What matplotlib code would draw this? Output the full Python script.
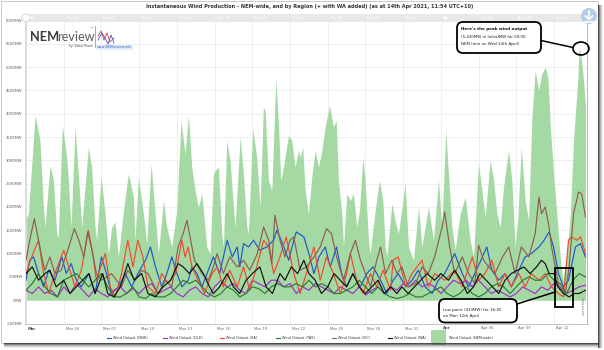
import numpy as np
import matplotlib
matplotlib.use("Agg")
import matplotlib.pyplot as plt
from matplotlib.patches import FancyBboxPatch, Ellipse, Rectangle, Circle
from matplotlib.lines import Line2D
from matplotlib.transforms import IdentityTransform

plt.rcParams['font.family'] = ['DejaVu Sans']

# ---------------- data (day offsets from 1 Mar 2021 00:00, MW) ----------------
nem_day = [0, 0.19, 0.72, 1.11, 1.38, 1.51, 1.91, 2.18, 2.44, 2.57,
           2.89, 3.24, 3.37, 3.58, 3.90, 4.16, 4.43, 4.96, 5.22, 5.49,
           5.62, 5.97, 6.29, 6.55, 6.82, 7.08, 7.35, 7.75, 8.14, 8.54,
           8.67, 8.94, 9.34, 9.60, 9.95, 10.27, 10.53, 10.93, 11.19, 11.59,
           11.99, 12.33, 12.65, 12.92, 13.18, 13.45, 13.71, 13.98, 14.38, 14.64,
           14.91, 15.04, 15.30, 15.57, 15.70, 15.97, 16.23, 16.50, 16.63, 17.03,
           17.29, 17.56, 17.69, 18.03, 18.35, 18.62, 18.88, 19.02, 19.28, 19.55,
           19.87, 20.08, 20.26, 20.48, 20.87, 21.14, 21.40, 21.67, 21.80, 22.01,
           22.20, 22.46, 22.73, 22.99, 23.26, 23.53, 23.79, 24.14, 24.45, 24.67,
           24.85, 25.12, 25.25, 25.52, 25.78, 26.05, 26.31, 26.52, 26.79, 26.97,
           27.24, 27.37, 27.77, 28.11, 28.38, 28.57, 28.70, 29.10, 29.36, 29.62,
           30.16, 30.42, 30.82, 31.22, 31.48, 32.01, 32.41, 32.81, 33.07, 33.39,
           33.60, 33.87, 34.13, 34.53, 34.93, 35.33, 35.59, 35.99, 36.26, 36.52,
           36.92, 37.19, 37.45, 37.72, 37.98, 38.38, 38.64, 38.91, 39.12, 39.39,
           39.70, 39.97, 40.24, 40.50, 40.77, 41.03, 41.30, 41.51, 41.69, 41.96,
           42.22, 42.49, 42.70, 43.02, 43.29, 43.55, 43.90, 44.00, 44.16, 44.35,
           44.50]
nem_mw = [1750, 1857, 3963, 3428, 2000, 1571, 2892, 2571, 1428, 1357,
          3750, 3070, 2571, 1571, 3713, 2713, 1571, 3285, 2856, 1571,
          1285, 2642, 1857, 1000, 1571, 1678, 928, 1928, 2713, 2213,
          1285, 2642, 1857, 1214, 2928, 1857, 1000, 2142, 1571, 1143,
          1928, 3856, 3142, 3963, 2856, 2356, 2000, 2285, 1143, 1000,
          2713, 2785, 2856, 1428, 1143, 3428, 3000, 2000, 1571, 3500,
          2713, 1571, 1428, 3677, 3070, 2000, 4141, 4070, 2571, 2356,
          4748, 3785, 2571, 2856, 3534, 3428, 2856, 3213, 3070, 3285,
          2356, 1857, 2642, 3213, 2856, 3213, 3713, 4177, 3713, 3856,
          2571, 1857, 1143, 2285, 2142, 2285, 1571, 1928, 3070, 2571,
          1285, 1000, 1928, 2571, 2142, 1143, 928, 2070, 1700, 1428,
          2500, 1143, 857, 2000, 1143, 2000, 1285, 2571, 1571, 3641,
          2713, 1571, 1071, 1857, 2213, 1285, 928, 2928, 2356, 1785,
          3000, 2571, 1857, 1571, 2428, 3213, 2571, 1143, 1785, 3285,
          2142, 1714, 3928, 4928, 4500, 4856, 5000, 4785, 3785, 2713,
          1857, 928, 433, 1000, 1857, 3428, 4785, 5430, 5200, 4713,
          4141]

nsw_day = [0, 0.3, 0.6, 1.0, 1.4, 1.8, 2.3, 2.85, 3.2, 3.6,
           4.0, 4.4, 5.0, 5.5, 6.0, 6.4, 6.8, 7.35, 7.9, 8.4,
           8.9, 9.5, 9.9, 10.3, 10.8, 11.2, 11.6, 12.0, 12.4, 12.9,
           13.2, 13.6, 14.0, 14.4, 14.9, 15.4, 16.0, 16.4, 16.8, 17.0,
           17.3, 17.7, 18.1, 18.6, 19.15, 19.7, 19.95, 20.3, 20.9, 21.3,
           21.5, 22.1, 22.5, 22.9, 23.3, 23.8, 24.2, 24.7, 25.1, 25.5,
           26.0, 26.6, 27.1, 27.6, 28.2, 28.7, 29.2, 29.6, 30.2, 30.7,
           31.2, 31.75, 32.3, 32.8, 33.3, 34.1, 34.7, 35.2, 35.7, 36.3,
           36.65, 37.05, 37.6, 38.1, 38.6, 39.2, 39.7, 40.2, 40.8, 41.2,
           41.6, 41.96, 42.35, 42.75, 43.15, 43.7, 44.1, 44.5]
nsw_mw = [428, 857, 928, 571, 286, 643, 428, 928, 571, 785,
          428, 286, 571, 143, 928, 571, 143, 286, 571, 286,
          571, 857, 1142, 714, 286, 571, 928, 571, 286, 428,
          714, 571, 286, 571, 928, 571, 1285, 928, 1142, 714,
          1214, 1142, 1285, 1071, 1142, 1285, 1500, 1285, 857, 1285,
          1464, 1357, 1000, 571, 928, 1142, 714, 1142, 571, 286,
          571, 286, 571, 714, 428, 143, 428, 571, 286, 428,
          643, 286, 143, 428, 571, 1000, 571, 286, 571, 928,
          1142, 643, 428, 571, 286, 643, 928, 1000, 1142, 1285,
          1464, 1142, 571, 286, 428, 1142, 1214, 928]

sa_day = [0, 0.45, 1.0, 1.4, 1.8, 2.3, 3.0, 3.4, 3.9, 4.4,
          4.96, 5.35, 5.6, 6.3, 6.7, 7.1, 7.6, 8.1, 8.5, 8.9,
          9.3, 9.7, 10.3, 10.8, 11.3, 11.9, 12.4, 12.65, 12.9, 13.2,
          13.7, 14.2, 14.8, 15.2, 15.7, 16.2, 16.8, 17.3, 17.8, 18.35,
          18.9, 19.3, 19.7, 20.2, 20.7, 21.3, 21.8, 22.3, 22.9, 23.4,
          23.9, 24.45, 25.0, 25.5, 25.8, 26.3, 26.8, 27.4, 27.9, 28.4,
          29.0, 29.2, 29.6, 30.2, 30.7, 31.5, 32.0, 32.5, 33.3, 34.1,
          34.7, 35.5, 36.0, 36.5, 37.05, 37.6, 38.1, 38.6, 39.2, 39.7,
          40.2, 40.8, 41.3, 41.8, 42.35, 42.75, 43.15, 43.4, 43.8, 44.1,
          44.35, 44.5]
sa_mw = [571, 928, 1285, 571, 143, 571, 1071, 714, 286, 643,
         1500, 928, 428, 1000, 286, 71, 571, 1285, 714, 1285,
         928, 286, 143, 571, 357, 571, 1285, 928, 1142, 714,
         428, 143, 571, 714, 286, 643, 286, 714, 214, 714,
         1285, 1142, 571, 928, 1357, 571, 143, 571, 1142, 428,
         928, 571, 143, 571, 1000, 428, 143, 571, 286, 643,
         214, 857, 928, 286, 571, 857, 286, 571, 428, 643,
         286, 928, 428, 571, 857, 286, 571, 286, 571, 286,
         571, 428, 571, 286, 143, 71, 1285, 1357, 1285, 1357,
         1142, 1000]

vic_day = [0, 0.3, 0.66, 1.0, 1.25, 1.5, 1.9, 2.3, 2.8, 3.4,
           3.85, 4.2, 4.6, 4.9, 5.2, 5.6, 6.0, 6.8, 7.6, 8.1,
           8.7, 9.2, 9.7, 10.5, 11.1, 11.6, 12.1, 12.5, 12.8, 13.1,
           13.4, 14.0, 14.5, 14.9, 15.2, 15.7, 16.2, 16.8, 17.3, 17.8,
           18.4, 18.9, 19.3, 19.55, 19.8, 20.2, 20.6, 21.0, 21.3, 21.8,
           22.3, 22.9, 23.4, 23.9, 24.3, 24.7, 25.25, 25.8, 26.2, 26.6,
           27.0, 27.4, 27.9, 28.2, 28.6, 29.1, 29.5, 29.9, 30.4, 31.0,
           31.5, 32.0, 32.5, 33.1, 33.3, 33.7, 34.1, 34.7, 35.2, 35.7,
           36.0, 36.4, 36.8, 37.3, 37.9, 38.4, 38.9, 39.4, 40.0, 40.5,
           40.8, 41.0, 41.3, 41.6, 41.8, 42.1, 42.4, 42.9, 43.2, 43.55,
           43.95, 44.2, 44.5]
vic_mw = [857, 1285, 1750, 1285, 928, 643, 928, 571, 643, 1142,
          1535, 1285, 928, 1464, 1142, 571, 428, 571, 286, 643,
          428, 643, 571, 143, 428, 286, 1142, 1428, 1714, 1285,
          857, 571, 428, 714, 1000, 571, 928, 714, 857, 643,
          1000, 1571, 1285, 785, 1821, 1285, 928, 1285, 1357, 643,
          714, 928, 1142, 1535, 1428, 928, 428, 1000, 1285, 857,
          571, 286, 857, 1142, 571, 857, 571, 714, 286, 357,
          714, 571, 928, 1571, 1892, 1142, 571, 928, 571, 357,
          1178, 857, 714, 571, 928, 1142, 571, 1142, 928, 1428,
          2213, 1856, 2000, 1571, 1142, 714, 286, 143, 714, 1856,
          2320, 2285, 1785]

wa_day = [0, 0.5, 1.0, 1.5, 1.9, 2.4, 3.0, 3.5, 4.0, 4.5,
          5.0, 5.5, 6.1, 6.5, 7.0, 7.5, 8.1, 8.6, 9.2, 9.7,
          10.3, 10.9, 11.5, 12.1, 12.5, 13.0, 13.6, 14.1, 14.6, 14.9,
          15.4, 16.0, 16.5, 17.0, 17.5, 18.0, 18.6, 19.1, 19.6, 20.2,
          20.6, 21.1, 21.6, 22.1, 22.5, 23.0, 23.5, 24.0, 24.5, 25.0,
          25.5, 26.0, 26.5, 27.0, 27.5, 28.0, 28.5, 29.0, 29.5, 29.9,
          30.4, 30.9, 31.4, 31.9, 32.5, 33.0, 33.6, 34.1, 34.6, 35.1,
          35.6, 36.1, 36.6, 37.1, 37.6, 38.1, 38.6, 39.1, 39.6, 40.1,
          40.6, 41.0, 41.3, 41.6, 42.0, 42.3, 42.75, 43.2, 43.6, 44.0,
          44.5]
wa_mw = [571, 714, 428, 571, 643, 286, 428, 143, 286, 428,
         571, 143, 571, 143, 71, 286, 785, 428, 571, 143,
         71, 286, 428, 785, 714, 571, 785, 571, 286, 143,
         286, 571, 286, 143, 428, 571, 714, 286, 143, 571,
         428, 714, 571, 857, 571, 428, 143, 286, 571, 428,
         286, 571, 286, 143, 286, 428, 143, 286, 143, 286,
         143, 286, 428, 571, 428, 571, 428, 643, 428, 143,
         286, 571, 428, 286, 143, 428, 571, 643, 714, 571,
         714, 857, 785, 571, 571, 286, 143, 71, 143, 143,
         214]

half_day = list(np.arange(0, 44.51, 0.5))
tas_mw = [214, 357, 571, 286, 143, 71, 428, 500, 571, 428, 286, 428, 571, 286, 71,
          71, 143, 286, 71, 36, 143, 71, 71, 143, 286, 428, 357, 428, 286, 143,
          71, 143, 286, 214, 71, 143, 286, 250, 143, 286, 357, 286, 286, 357, 286,
          428, 286, 357, 286, 143, 143, 214, 286, 428, 286, 143, 286, 143, 71, 36,
          71, 143, 71, 71, 143, 214, 286, 143, 71, 143, 286, 143, 71, 143, 286,
          357, 286, 143, 286, 428, 500, 428, 428, 571, 428, 357, 143, 428, 571, 500]
qld_mw = [214, 143, 286, 143, 214, 71, 286, 143, 357, 214, 71, 250, 143, 71, 214,
          286, 143, 250, 143, 286, 357, 143, 214, 286, 143, 71, 214, 286, 143, 71,
          286, 428, 286, 357, 214, 143, 428, 357, 286, 428, 428, 286, 357, 143, 286,
          214, 357, 286, 214, 143, 286, 214, 143, 286, 107, 214, 286, 143, 286, 214,
          357, 286, 428, 286, 357, 286, 143, 286, 428, 357, 428, 286, 428, 286, 143,
          214, 143, 71, 143, 286, 214, 143, 286, 214, 357, 286, 143, 214, 286, 321]

series_names = ["Wind Output (NSW)", "Wind Output (QLD)", "Wind Output (SA)",
                "Wind Output (TAS)", "Wind Output (VIC)", "Wind Output (WA)",
                "Wind Output (NEM-wide)"]
series_colors = ["#2255cc", "#a22fc6", "#f2492b", "#2e7d32", "#8c5e4e", "#111111", "#a4d9a4"]

y_ticks = list(range(-500, 6001, 500))
x_tick_days = list(range(0, 43, 3))
x_tick_labels = ["Mar", "Mar 04", "Mar 07", "Mar 10", "Mar 13", "Mar 16", "Mar 19",
                 "Mar 22", "Mar 25", "Mar 28", "Mar 31", "Apr", "Apr 06", "Apr 09", "Apr 12"]

title = ("Instantaneous Wind Production - NEM-wide, and by Region (+ with WA added) "
         "(as at 14th Apr 2021, 11:54 UTC+10)")

# ---------------- figure ----------------
W, H = 604, 350
fig = plt.figure(figsize=(W / 100, H / 100), dpi=100)
fig.patch.set_facecolor("white")
ID = IdentityTransform()


def ftext(x, y, s, **kw):
    return fig.text(x / W, 1 - y / H, s, **kw)


X0, X1, Y0, Y1 = 26, 588, 20.5, 323.5
ax = fig.add_axes([X0 / W, 1 - Y1 / H, (X1 - X0) / W, (Y1 - Y0) / H])
ax.set_xlim(0, 44.7)
ax.set_ylim(-500, 6000)
ax.set_facecolor("white")

ax.fill_between(nem_day, 0, nem_mw, color=series_colors[6], lw=0, zorder=1)
regions = [(nsw_day, nsw_mw), (half_day, qld_mw), (sa_day, sa_mw),
           (half_day, tas_mw), (vic_day, vic_mw), (wa_day, wa_mw)]
for (d, v), c in zip(regions, series_colors[:6]):
    ax.plot(d, v, color=c, lw=0.85, zorder=3, solid_joinstyle="round")

ax.axvline(44.6, color="#ff8c8c", lw=0.6, zorder=4)

ax.set_yticks(y_ticks)
ax.set_yticklabels([f"{v}MW" for v in y_ticks], fontsize=2.7, color="#606060")
ax.set_xticks(x_tick_days)
ax.set_xticklabels([])
ax.tick_params(length=0, pad=2.5)
ax.grid(True, color="#ececec", lw=0.6)
ax.set_axisbelow(True)
for s in ("top", "right"):
    ax.spines[s].set_visible(False)
ax.spines["left"].set_color("#d9d9d9")
ax.spines["left"].set_linewidth(1.3)
ax.spines["bottom"].set_color("#c4c4c4")
ax.spines["bottom"].set_linewidth(0.7)

for d, lbl in zip(x_tick_days, x_tick_labels):
    bold = lbl in ("Mar", "Apr")
    ax.annotate(lbl, xy=(d, 0), xycoords=("data", "axes fraction"), xytext=(2, -5),
                textcoords="offset pixels", ha="left", va="center", fontsize=2.7,
                color="#444444" if bold else "#666666",
                fontweight="bold" if bold else "normal", annotation_clip=False)

# top band (navigator-like)
fig.add_artist(Rectangle((25, H - 21.5), 562, 7.5, transform=ID, fc="#e8e8e8", ec="none"))
pxd = (X1 - X0) / 44.7
for d, lbl in zip(x_tick_days, x_tick_labels):
    ftext(X0 + d * pxd + 2, 17.8, lbl, fontsize=2.6, color="white", va="center",
          fontweight="bold" if lbl in ("Mar", "Apr") else "normal")
fig.add_artist(Circle((26, H - 17.8), 4, transform=ID, fc="white", ec="#c8c8c8", lw=0.5))

# title
ftext(310, 6.5, title, fontsize=3.6, fontweight="bold", color="#333333",
      ha="center", va="center")

# download icon
fig.add_artist(Circle((589, H - 16), 8, transform=ID, fc="#b5cde8", ec="none"))
fig.add_artist(Line2D([589, 589], [H - 11, H - 19], transform=ID, color="white", lw=1.2))
fig.add_artist(Line2D([585.5, 589, 592.5], [H - 16, H - 19.5, H - 16], transform=ID,
                      color="white", lw=1.2))
fig.add_artist(Line2D([584.5, 593.5], [H - 21.5, H - 21.5], transform=ID, color="white", lw=1.2))

# logo
r = fig.canvas.get_renderer()
t1 = ftext(30, 41, "NEM", fontsize=9.2, fontweight="bold", color="#3b3b3b",
           family="Lato", va="baseline")
bb = t1.get_window_extent(r)
fig.text((bb.x1 - 2.5) / W, 1 - 41 / H, "review", fontsize=9.2, color="#5a5a5a",
         family="Lato", va="baseline")
ftext(89, 30, "\u2122", fontsize=3, color="#555555")
ftext(69, 46, "by Global-Roam", fontsize=2.2, color="#555555", va="center")
fig.add_artist(Line2D([95, 95], [H - 26, H - 47], transform=ID, color="#888888", lw=0.5))
fig.add_artist(Line2D([98, 101, 104, 107, 110, 114], [H - 36, H - 31, H - 40, H - 33, H - 42, H - 38],
                      transform=ID, color="#e03a3a", lw=0.6))
fig.add_artist(Line2D([98, 102, 105, 108, 111, 114], [H - 40, H - 33, H - 38, H - 44, H - 35, H - 43],
                      transform=ID, color="#3a5fd0", lw=0.6))
ftext(97, 47.5, "www.NEMreview.info", fontsize=2.4, color="#3366cc", va="center",
      bbox=dict(boxstyle="square,pad=0.2", fc="#e3ecf8", ec="none"))

# peak annotation
fig.add_artist(FancyBboxPatch((457, H - 53), 84, 31, boxstyle="round,pad=0,rounding_size=6",
                              transform=ID, fc="white", ec="black", lw=1.3, zorder=10))
ftext(461, 29, "Here's the peak wind output", fontsize=3.0, fontweight="bold",
      color="#111111", va="center", zorder=11)
ftext(461, 36.5, "(5,430MW in InitialMW for 00:00", fontsize=2.9, color="#222222",
      va="center", zorder=11)
ftext(461, 43.5, "NEM time on Wed 14th April)", fontsize=2.9, color="#222222",
      va="center", zorder=11)
fig.add_artist(Line2D([541, 573], [H - 40.5, H - 47.5], transform=ID, color="black", lw=1.1, zorder=10))
fig.add_artist(Ellipse((581, H - 48.5), 16, 13, transform=ID, fc="none", ec="black", lw=1.2, zorder=10))

# low annotation
fig.add_artist(FancyBboxPatch((439, H - 322.5), 78, 23.5, boxstyle="round,pad=0,rounding_size=6",
                              transform=ID, fc="white", ec="black", lw=1.3, zorder=10))
ftext(443, 309.5, "Low point (433MW) for 16:45", fontsize=2.9, color="#222222",
      va="center", zorder=11)
ftext(443, 316.5, "on Mon 12th April", fontsize=2.9, color="#222222", va="center", zorder=11)
fig.add_artist(Line2D([517, 555], [H - 304, H - 292], transform=ID, color="black", lw=1.1, zorder=10))
fig.add_artist(Rectangle((555, H - 306.5), 18, 38.5, transform=ID, fc="none", ec="black",
                         lw=1.3, zorder=10))
ftext(584, 306, "current time", fontsize=2.0, color="#666666", rotation=90,
      ha="center", va="center")

# legend
leg_x = [107, 163, 220, 276, 332, 388]
for x, c, name in zip(leg_x, series_colors[:6], series_names[:6]):
    fig.add_artist(Line2D([x, x + 4], [H - 338, H - 338], transform=ID, color=c, lw=0.8))
    ftext(x + 6, 338, name, fontsize=2.5, color="#333333", va="center")
fig.add_artist(Rectangle((431, H - 345), 15, 15, transform=ID, fc=series_colors[6], ec="none"))
ftext(449, 338, series_names[6], fontsize=2.5, color="#333333", va="center")

# frame + shadow
fig.add_artist(Rectangle((0.5, H - 343), 597.5, 342.5, transform=ID, fc="none",
                         ec="#c8c8c8", lw=0.7))
for i, a in enumerate([0.75, 0.55, 0.35, 0.18, 0.08]):
    fig.add_artist(Rectangle((598 + i, H - 348), 1, 343, transform=ID,
                             fc="#222222", alpha=a, ec="none"))
    fig.add_artist(Rectangle((4, H - 344 - i), 595, 1, transform=ID,
                             fc="#222222", alpha=a, ec="none"))

fig.savefig("out.png", dpi=100)
